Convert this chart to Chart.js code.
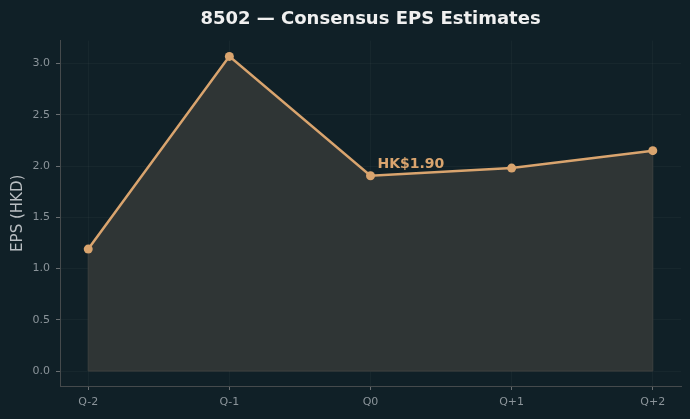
<!DOCTYPE html>
<html>
<head>
<meta charset="utf-8">
<script src="https://cdn.jsdelivr.net/npm/chart.js@4"></script>
<style>
  html, body { margin: 0; padding: 0; background: #102027; }
  #wrap { width: 690px; height: 419px; }
</style>
</head>
<body>
<div id="wrap"><canvas id="epsChart" width="690" height="419"></canvas></div>
<script>
const quarters = ["Q-2", "Q-1", "Q0", "Q+1", "Q+2"];
const epsValues = [1.19, 3.07, 1.905, 1.98, 2.15];
const yTicks = [0.0, 0.5, 1.0, 1.5, 2.0, 2.5, 3.0];
const currentIndex = 2;
const currentLabel = "HK$1.90";

const lineColor = "#d9a46e";
const fillColor = "#2f3535";
const tickColor = "#8b949a";
const gridColor = "rgba(255, 255, 255, 0.03)";
const axisColor = "#454a4c";

const points = epsValues.map((v, i) => ({ x: i, y: v }));

// outline of the filled area + the label on the current quarter
const extras = {
  id: "extras",
  afterDatasetsDraw(chart) {
    const ctx = chart.ctx;
    const xs = chart.scales.x;
    const ys = chart.scales.y;
    const y0 = ys.getPixelForValue(0);
    const first = xs.getPixelForValue(0);
    const last = xs.getPixelForValue(epsValues.length - 1);
    ctx.save();
    ctx.strokeStyle = "#3e413f";
    ctx.lineWidth = 1;
    ctx.beginPath();
    ctx.moveTo(first, ys.getPixelForValue(epsValues[0]) + 5);
    ctx.lineTo(first, y0);
    ctx.lineTo(last, y0);
    ctx.lineTo(last, ys.getPixelForValue(epsValues[epsValues.length - 1]) + 5);
    ctx.stroke();

    ctx.fillStyle = lineColor;
    ctx.font = "bold 14px 'DejaVu Sans'";
    ctx.textBaseline = "alphabetic";
    ctx.fillText(currentLabel, xs.getPixelForValue(currentIndex) + 7, ys.getPixelForValue(epsValues[currentIndex]) - 8);
    ctx.restore();
  },
};

new Chart(document.getElementById("epsChart"), {
  type: "line",
  data: {
    datasets: [
      {
        data: points,
        borderColor: lineColor,
        borderWidth: 2.5,
        backgroundColor: fillColor,
        fill: "origin",
        pointRadius: 4.5,
        pointBackgroundColor: lineColor,
        pointBorderColor: lineColor,
        pointBorderWidth: 0,
        tension: 0,
      },
    ],
  },
  options: {
    responsive: false,
    animation: false,
    layout: {
      padding: { left: 9, right: 9, top: 4, bottom: 6 },
    },
    plugins: {
      legend: { display: false },
      tooltip: { enabled: false },
      title: {
        display: true,
        text: "8502 — Consensus EPS Estimates",
        color: "#f0f0f0",
        fullSize: false,
        font: { family: "DejaVu Sans", size: 18, weight: "bold" },
        padding: { top: 5, bottom: 10 },
      },
    },
    scales: {
      x: {
        type: "linear",
        min: -0.2,
        max: 4.2,
        afterBuildTicks: (axis) => {
          axis.ticks = quarters.map((q, i) => ({ value: i }));
        },
        afterFit: (axis) => {
          axis.height = 27;
        },
        ticks: {
          color: tickColor,
          font: { family: "DejaVu Sans", size: 11 },
          padding: 6,
          callback: (value) => quarters[value],
        },
        grid: {
          color: gridColor,
          tickColor: "#6a6f72",
          tickLength: 4,
        },
        border: { color: axisColor, width: 1 },
      },
      y: {
        min: -0.146,
        max: 3.224,
        afterBuildTicks: (axis) => {
          axis.ticks = yTicks.map((v) => ({ value: v }));
        },
        afterFit: (axis) => {
          axis.width = 51;
        },
        ticks: {
          color: tickColor,
          font: { family: "DejaVu Sans", size: 11 },
          padding: 6,
          callback: (value) => value.toFixed(1),
        },
        title: {
          display: true,
          text: "EPS (HKD)",
          color: "#b9bec2",
          font: { family: "DejaVu Sans", size: 15 },
          padding: { top: 0, bottom: 4 },
        },
        grid: {
          color: gridColor,
          tickColor: "#6a6f72",
          tickLength: 4,
        },
        border: { color: axisColor, width: 1 },
      },
    },
  },
  plugins: [extras],
});
</script>
</body>
</html>
